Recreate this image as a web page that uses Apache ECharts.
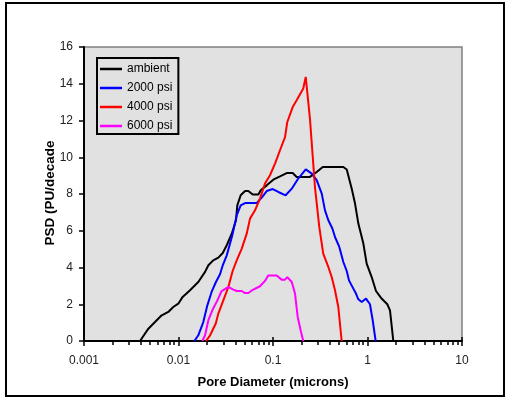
<!DOCTYPE html>
<html><head><meta charset="utf-8">
<script src="https://cdn.jsdelivr.net/npm/echarts@6/dist/echarts.min.js"></script>
<style>html,body{margin:0;padding:0;background:#fff}#c{width:510px;height:397px}</style>
</head><body><div id="c"></div>
<script>
const seriesNames = ['ambient', '2000 psi', '4000 psi', '6000 psi'];
const xTitle = 'Pore Diameter (microns)';
const yTitle = 'PSD (PU/decade';
const xTickLabels = ['0.001', '0.01', '0.1', '1', '10'];
const xMinorTicks = [0.002,0.003,0.004,0.005,0.006,0.007,0.008,0.009,
  0.02,0.03,0.04,0.05,0.06,0.07,0.08,0.09,
  0.2,0.3,0.4,0.5,0.6,0.7,0.8,0.9,
  2,3,4,5,6,7,8,9];
const xMajorTicks = [0.001, 0.01, 0.1, 1, 10];
const yTicks = [0, 2, 4, 6, 8, 10, 12, 14, 16];

const ambientX = [0.00392,0.00418,0.0048,0.00564,0.00664,0.0078,0.0088,0.00995,0.01107,0.01324,0.0162,0.0191,0.0207,0.0233,0.0264,0.0294,0.0324,0.0366,0.0406,0.0419,0.0455,0.0506,0.0548,0.061,0.070,0.0742,0.0858,0.1007,0.1186,0.1395,0.1616,0.178,0.246,0.290,0.336,0.555,0.603,0.681,0.738,0.80,0.904,0.98,1.107,1.23,1.41,1.62,1.73,1.876];
const ambientY = [0,0.22,0.67,1.03,1.40,1.58,1.85,2.03,2.40,2.76,3.21,3.76,4.12,4.39,4.54,4.79,5.21,5.84,6.57,7.38,7.93,8.16,8.16,7.97,7.97,8.2,8.47,8.78,8.96,9.14,9.14,8.93,8.93,9.2,9.47,9.47,9.33,8.29,7.48,6.39,5.30,4.21,3.48,2.72,2.31,2.0,1.67,0];

const psi2000X = [0.01472,0.0162,0.0183,0.0202,0.0224,0.0249,0.0275,0.0294,0.0324,0.0371,0.0413,0.0455,0.0506,0.0673,0.076,0.0858,0.0993,0.1139,0.136,0.158,0.185,0.222,0.257,0.29,0.328,0.355,0.385,0.425,0.453,0.503,0.555,0.603,0.637,0.708,0.755,0.80,0.869,0.964,1.062,1.135,1.22];
const psi2000Y = [0,0.31,1.03,1.94,2.67,3.21,3.63,4.12,4.66,5.75,6.84,7.38,7.51,7.51,7.80,8.16,8.27,8.11,7.93,8.29,8.84,9.34,9.11,8.75,8.02,7.11,6.57,6.12,5.66,5.12,4.30,3.81,3.30,2.85,2.58,2.27,2.12,2.31,2.0,1.13,0];

const psi4000X = [0.01954,0.0216,0.0248,0.0264,0.0298,0.0337,0.0374,0.0413,0.0467,0.0527,0.0571,0.0645,0.0728,0.0823,0.0929,0.105,0.1186,0.134,0.1417,0.1616,0.178,0.209,0.222,0.246,0.278,0.309,0.340,0.385,0.418,0.453,0.491,0.533];
const psi4000Y = [0,0.31,0.95,1.49,2.21,2.94,3.81,4.39,5.03,5.84,6.66,7.11,7.75,8.57,9.02,9.65,10.38,11.1,11.92,12.73,13.1,13.74,14.37,12.10,8.38,6.20,4.76,4.03,3.48,2.76,1.85,0];

const psi6000X = [0.01786,0.0191,0.0207,0.0228,0.0258,0.0286,0.0337,0.038,0.0413,0.0467,0.0506,0.0548,0.0618,0.0728,0.0823,0.089,0.1093,0.1234,0.134,0.1417,0.158,0.171,0.1825,0.198,0.209];
const psi6000Y = [0,0.31,1.13,1.67,2.21,2.72,2.94,2.80,2.72,2.72,2.61,2.61,2.80,2.98,3.27,3.57,3.57,3.34,3.34,3.48,3.21,2.58,1.31,0.49,0];

const colors = ['#000000', '#0000ff', '#ff0000', '#ff00ff'];
const xs = [ambientX, psi2000X, psi4000X, psi6000X];
const ys = [ambientY, psi2000Y, psi4000Y, psi6000Y];

const chart = echarts.init(document.getElementById('c'), null, {renderer: 'canvas'});
const font = 'Arial, "Liberation Sans", sans-serif';
const baseX = {
  type: 'log', logBase: 10, min: 0.001, max: 10, gridIndex: 0, position: 'bottom',
  axisLine: {onZero: false},
  splitLine: {show: false}, minorSplitLine: {show: false}
};
chart.setOption({
  animation: false,
  backgroundColor: '#ffffff',
  grid: {left: 84, top: 47, right: 48, bottom: 56, show: true,
    backgroundColor: '#e1e1e1', borderColor: '#808080', borderWidth: 1.5},
  legend: {
    data: seriesNames, orient: 'vertical', left: 97, top: 58,
    padding: [4, 6, 1, 3], itemGap: 5, itemWidth: 22, itemHeight: 2.5, icon: 'rect',
    borderColor: '#000', borderWidth: 2, backgroundColor: 'transparent',
    textStyle: {fontFamily: font, fontSize: 12, color: '#000', lineHeight: 14}
  },
  xAxis: [
    Object.assign({}, baseX, {
      name: xTitle, nameLocation: 'middle', nameGap: 35,
      nameTextStyle: {fontFamily: font, fontSize: 13, fontWeight: 'bold', color: '#000'},
      axisLine: {show: true, onZero: false, lineStyle: {color: '#000', width: 2}},
      axisTick: {show: true, inside: false, length: 5, lineStyle: {color: '#000', width: 1.5},
        customValues: xMajorTicks},
      axisLabel: {show: true, margin: 14, fontFamily: font, fontSize: 12, color: '#222',
        customValues: xMajorTicks,
        formatter: function (v) { const i = xMajorTicks.indexOf(v); return i >= 0 ? xTickLabels[i] : ''; }}
    }),
    Object.assign({}, baseX, {
      axisLine: {show: false, onZero: false},
      axisTick: {show: true, inside: false, length: 4, lineStyle: {color: '#000', width: 1.5},
        customValues: xMinorTicks},
      axisLabel: {show: false}
    }),
    Object.assign({}, baseX, {
      axisLine: {show: false, onZero: false},
      axisTick: {show: true, inside: true, length: 4, lineStyle: {color: '#000', width: 1.5},
        customValues: xMajorTicks},
      axisLabel: {show: false}
    })
  ],
  yAxis: {
    type: 'value', min: 0, max: 16, interval: 2,
    axisLine: {show: true, lineStyle: {color: '#000', width: 2}},
    axisTick: {show: true, inside: false, length: 5, lineStyle: {color: '#000', width: 1.5}},
    axisLabel: {margin: 11, fontFamily: font, fontSize: 12, color: '#222',
      formatter: function (v) { return yTicks.indexOf(v) >= 0 ? String(v) : ''; }},
    splitLine: {show: false}
  },
  graphic: [{
    type: 'rect', shape: {x: 6, y: 3, width: 498, height: 393},
    style: {fill: 'none', stroke: '#000', lineWidth: 2}, silent: true, z: 100
  }, {
    type: 'text', x: 50, y: 193, rotation: Math.PI / 2,
    style: {text: yTitle, font: 'bold 13.5px ' + font, fill: '#000',
      align: 'center', verticalAlign: 'middle'}, silent: true, z: 100
  }],
  series: seriesNames.map(function (n, i) {
    return {
      name: n, type: 'line', xAxisIndex: 0, showSymbol: false, symbol: 'none',
      itemStyle: {color: colors[i]},
      lineStyle: {color: colors[i], width: 2},
      data: xs[i].map(function (x, k) { return [x, ys[i][k]]; })
    };
  })
});
</script>
</body></html>
